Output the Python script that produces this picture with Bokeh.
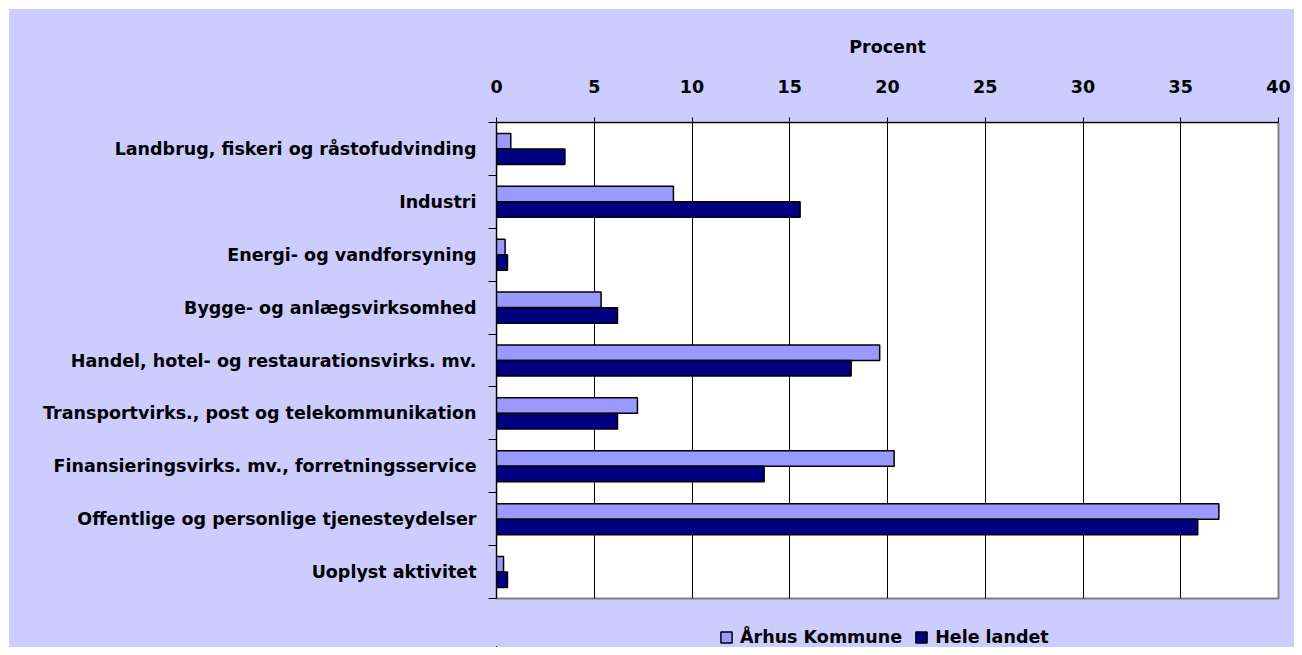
from bokeh.plotting import figure
from bokeh.layouts import column
from bokeh.models import (ColumnDataSource, Range1d, FixedTicker, LinearAxis,
                          Legend, LegendItem)
from bokeh.transform import dodge
from bokeh.embed import file_html
from bokeh.resources import INLINE

categories = [
    "Landbrug, fiskeri og råstofudvinding",
    "Industri",
    "Energi- og vandforsyning",
    "Bygge- og anlægsvirksomhed",
    "Handel, hotel- og restaurationsvirks. mv.",
    "Transportvirks., post og telekommunikation",
    "Finansieringsvirks. mv., forretningsservice",
    "Offentlige og personlige tjenesteydelser",
    "Uoplyst aktivitet",
]
aarhus = [0.73, 9.05, 0.44, 5.35, 19.6, 7.21, 20.34, 36.95, 0.36]
hele_landet = [3.5, 15.53, 0.56, 6.19, 18.14, 6.19, 13.69, 35.87, 0.56]
x_ticks = [0, 5, 10, 15, 20, 25, 30, 35, 40]
series_names = ["Århus Kommune", "Hele landet"]
colors = ["#9999FF", "#000080"]

FONT = "DejaVu Sans"
FS = "17.5px"
BG = "#CCCCFF"

n = len(categories)
pos = [n - 1 - i for i in range(n)]
label_map = {n - 1 - i: c for i, c in enumerate(categories)}

src = ColumnDataSource(dict(y=pos, a=aarhus, h=hele_landet))

p = figure(width=1285, height=592, output_backend="svg", toolbar_location=None,
           x_range=Range1d(0, 40), y_range=Range1d(-0.5, n - 0.5),
           x_axis_location="above", y_axis_location=None,
           min_border_left=487, min_border_right=16,
           min_border_top=113, min_border_bottom=3)

p.border_fill_color = BG
p.background_fill_color = "white"
p.outline_line_color = "#808080"
p.outline_line_width = 2

# x axis (top)
xa = p.xaxis[0]
xa.ticker = FixedTicker(ticks=x_ticks, minor_ticks=[])
xa.axis_label = "Procent"
xa.axis_label_text_font = FONT
xa.axis_label_text_font_style = "bold"
xa.axis_label_text_font_size = FS
xa.axis_label_text_color = "black"
xa.axis_label_standoff = 20
xa.major_label_text_font = FONT
xa.major_label_text_font_style = "bold"
xa.major_label_text_font_size = FS
xa.major_label_text_color = "black"
xa.major_label_standoff = 25
xa.major_tick_out = 5
xa.major_tick_in = 0
xa.axis_line_color = "black"
xa.major_tick_line_color = "black"

# y axis (left) with ticks at category boundaries
ya = LinearAxis(
    ticker=FixedTicker(ticks=pos, minor_ticks=[k - 0.5 for k in range(n + 1)]),
    major_label_overrides=label_map,
)
ya.major_label_text_font = FONT
ya.major_label_text_font_style = "bold"
ya.major_label_text_font_size = FS
ya.major_label_text_color = "black"
ya.major_tick_out = 0
ya.major_tick_in = 0
ya.minor_tick_out = 8
ya.minor_tick_in = 0
ya.minor_tick_line_color = "black"
ya.major_label_standoff = 12
ya.axis_line_color = "black"
p.add_layout(ya, "left")

p.xgrid.ticker = FixedTicker(ticks=x_ticks[1:-1])
p.xgrid.grid_line_color = "black"
p.xgrid.grid_line_width = 1
p.ygrid.grid_line_color = None

bh = 0.293
off = 0.147
p.hbar(y=dodge("y", off, range=p.y_range), right="a", left=0, height=bh,
       source=src, fill_color=colors[0], line_color="black", line_width=1.5)
p.hbar(y=dodge("y", -off, range=p.y_range), right="h", left=0, height=bh,
       source=src, fill_color=colors[1], line_color="black", line_width=1.5)

# legend strip below the chart (its renderers lie far outside its visible range)
lg = figure(width=1285, height=46, output_backend="svg", toolbar_location=None,
            x_range=Range1d(1000, 1001), y_range=Range1d(1000, 1001),
            x_axis_location=None, y_axis_location=None,
            min_border=0)
lg.border_fill_color = BG
lg.border_fill_alpha = 0
lg.background_fill_color = BG
lg.background_fill_alpha = 0
lg.outline_line_color = None
lg.grid.grid_line_color = None
lr1 = lg.hbar(y="y", right="a", left=0, height=bh, source=src,
              fill_color=colors[0], line_color="black", line_width=1.5)
lr2 = lg.hbar(y="y", right="h", left=0, height=bh, source=src,
              fill_color=colors[1], line_color="black", line_width=1.5)

legend = Legend(items=[LegendItem(label=series_names[0], renderers=[lr1]),
                       LegendItem(label=series_names[1], renderers=[lr2])],
                orientation="horizontal", location=(223, 0))
legend.label_text_font = FONT
legend.label_text_font_style = "bold"
legend.label_text_font_size = FS
legend.label_text_color = "black"
legend.glyph_width = 14
legend.glyph_height = 14
legend.label_height = 20
legend.label_standoff = 7
legend.spacing = 12
legend.padding = 0
legend.margin = 0
legend.border_line_color = None
legend.background_fill_alpha = 0
lg.add_layout(legend, "center")

layout = column(p, lg, spacing=0, styles={"background-color": BG})
layout.margin = (9, 0, 0, 9)

open("out.html", "w").write(file_html(layout, INLINE))
